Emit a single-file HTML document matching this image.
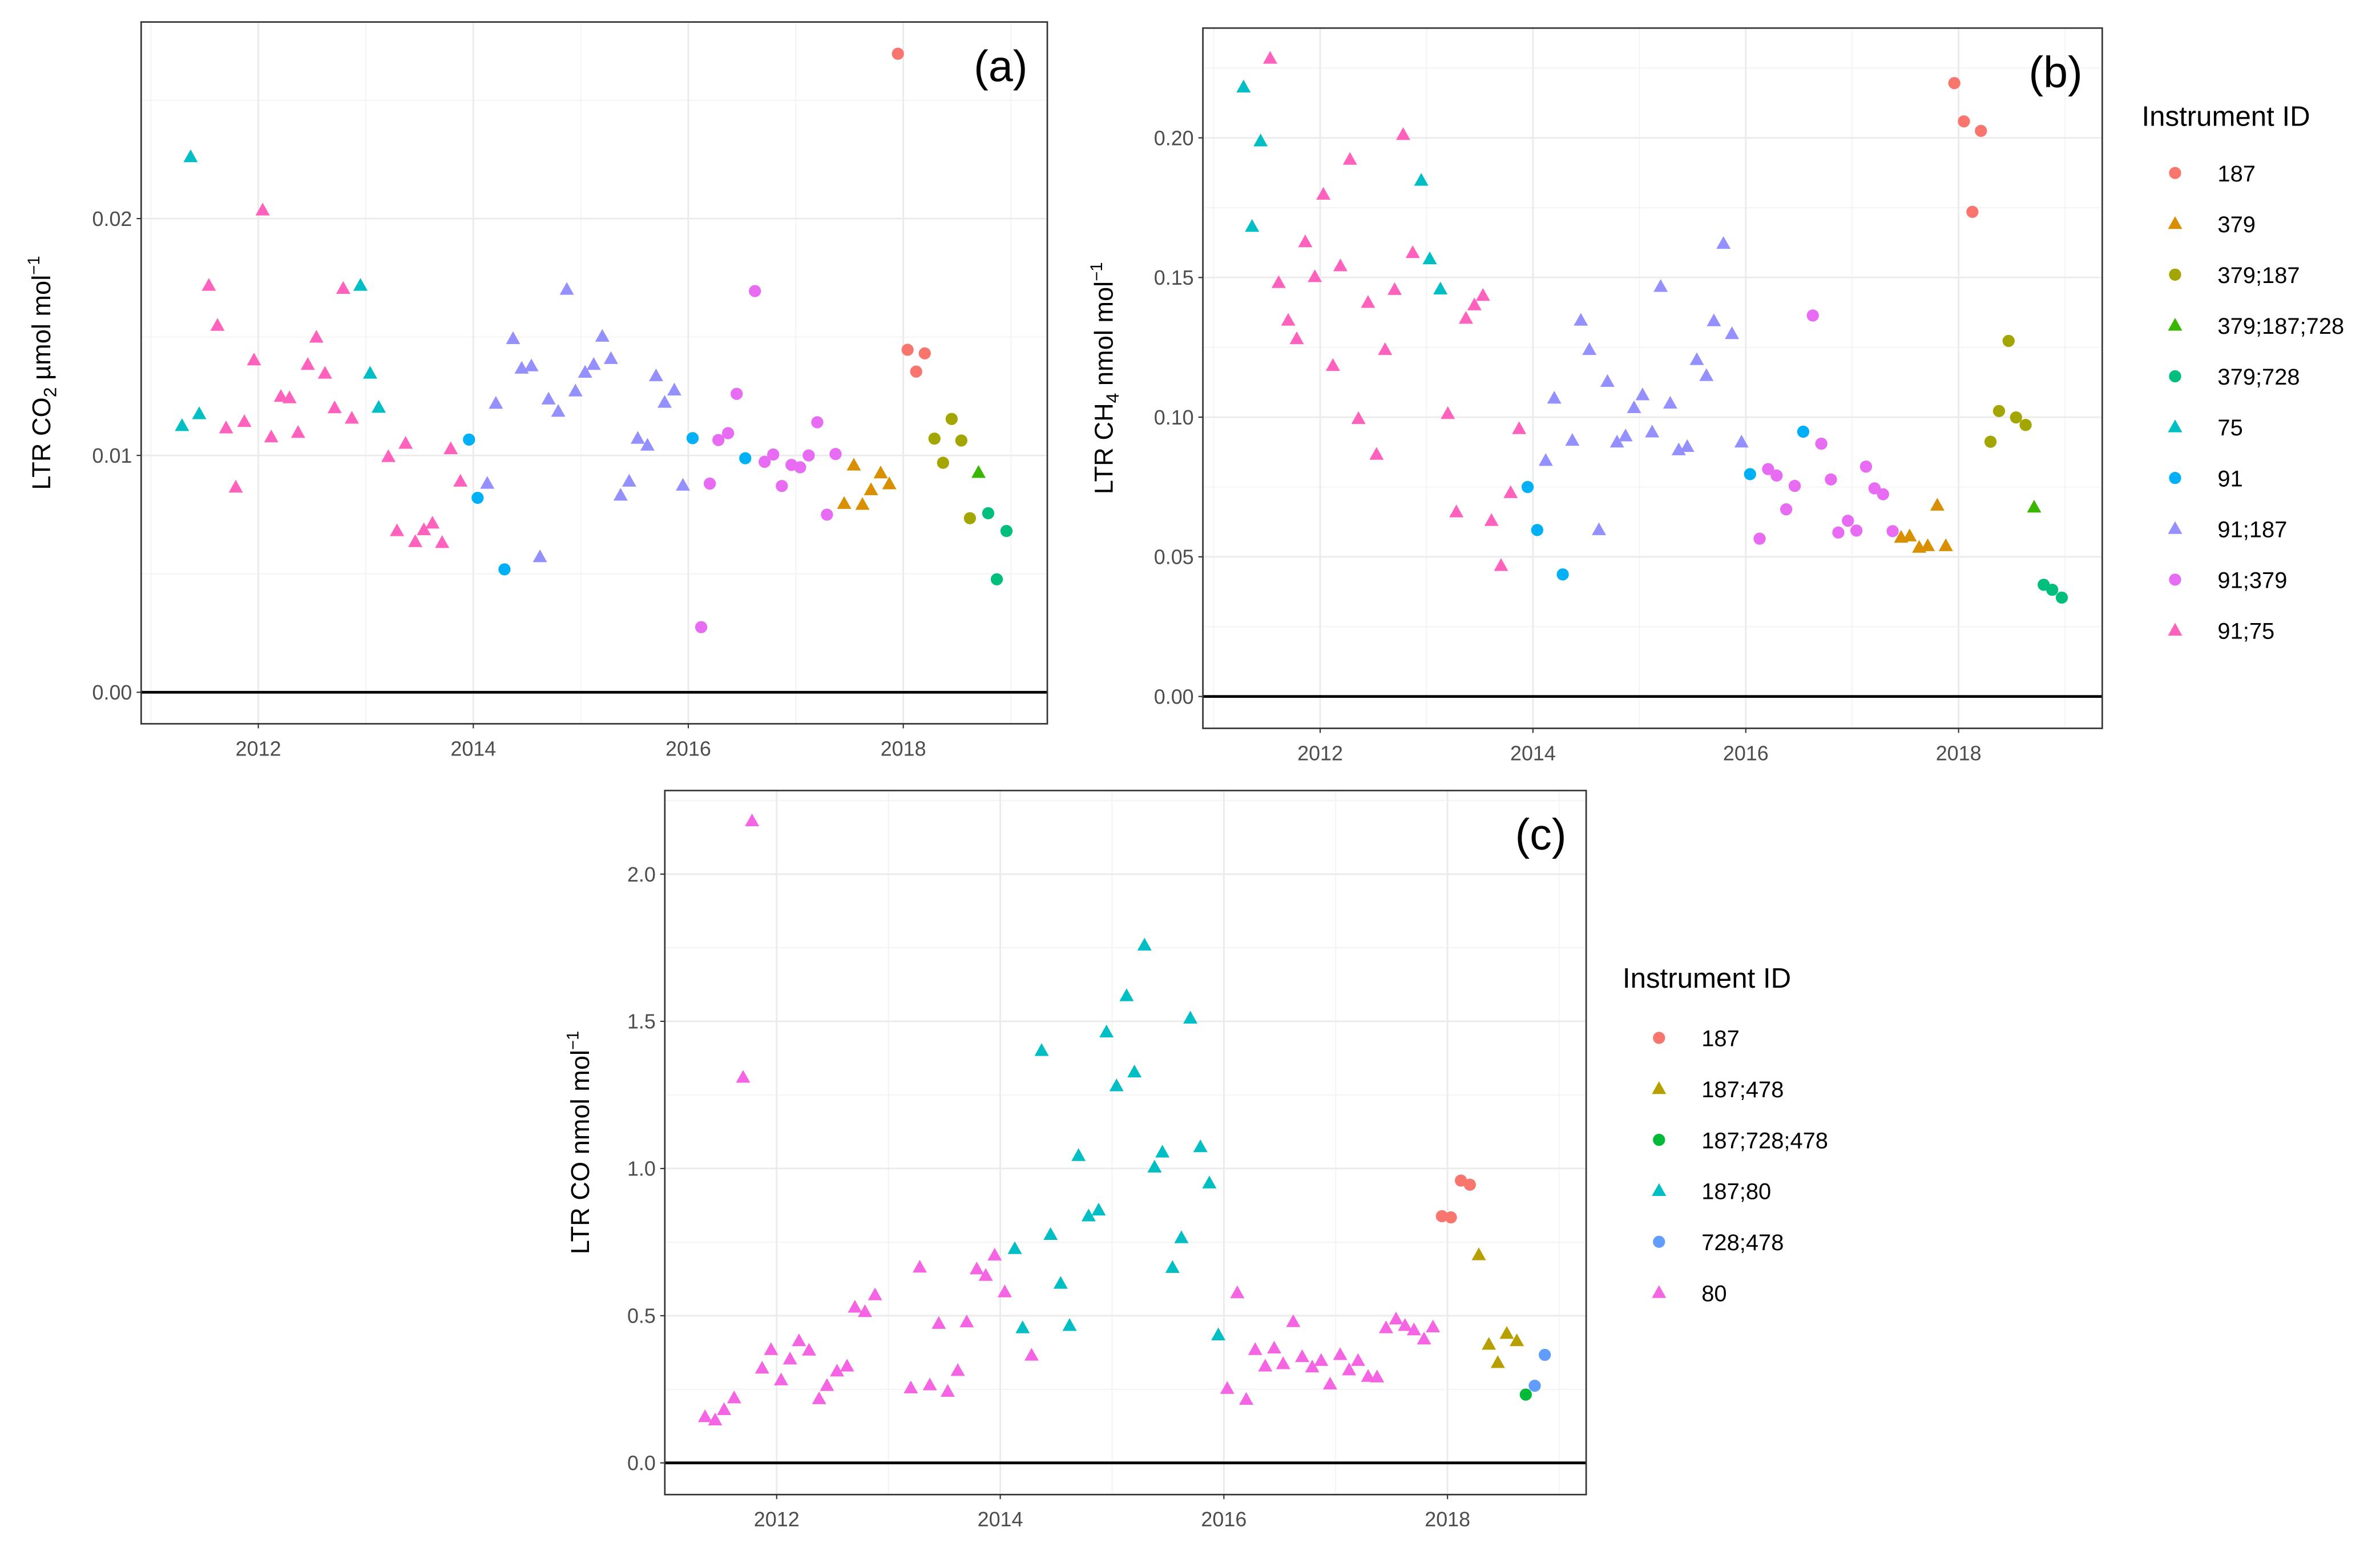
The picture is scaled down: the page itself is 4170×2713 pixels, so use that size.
<!DOCTYPE html>
<html><head><meta charset="utf-8"><title>LTR charts</title>
<style>html,body{margin:0;padding:0;background:#fff}svg{display:block}text{font-family:"Liberation Sans",sans-serif}</style>
</head><body>
<svg id="chart" width="4170" height="2713" viewBox="0 0 1568 1020.2" preserveAspectRatio="none" xmlns="http://www.w3.org/2000/svg"></svg>
<script>
// ---------- Panel (a) CO2 ----------
const a187x=[2017.95,2018.04,2018.12,2018.2];
const a187y=[0.02696,0.01446,0.01354,0.01431];
const a379x=[2017.45,2017.54,2017.62,2017.7,2017.79,2017.87];
const a379y=[0.00796,0.00958,0.00792,0.00854,0.00925,0.00879];
const a379_187x=[2018.29,2018.37,2018.45,2018.54,2018.62];
const a379_187y=[0.01071,0.00969,0.01154,0.01063,0.00735];
const a379_187_728x=[2018.7];
const a379_187_728y=[0.00927];
const a379_728x=[2018.79,2018.87,2018.96];
const a379_728y=[0.00756,0.00477,0.00681];
const a75x=[2011.29,2011.37,2011.45,2012.95,2013.04,2013.12];
const a75y=[0.01125,0.0226,0.01175,0.01717,0.01346,0.01202];
const a91x=[2013.96,2014.04,2014.29,2016.04,2016.53];
const a91y=[0.01067,0.00821,0.00519,0.01073,0.00988];
const a91_187x=[2014.13,2014.21,2014.37,2014.45,2014.54,2014.62,2014.7,2014.79,2014.87,2014.95,2015.04,2015.12,2015.2,2015.28,2015.37,2015.45,2015.53,2015.62,2015.7,2015.78,2015.87,2015.95];
const a91_187y=[0.00881,0.01219,0.01492,0.01367,0.01377,0.00571,0.01237,0.01185,0.017,0.01271,0.0135,0.01383,0.01502,0.01408,0.00831,0.0089,0.01071,0.01042,0.01335,0.01223,0.01275,0.00873];
const a91_379x=[2016.12,2016.2,2016.28,2016.37,2016.45,2016.62,2016.71,2016.79,2016.87,2016.96,2017.04,2017.12,2017.2,2017.29,2017.37];
const a91_379y=[0.00275,0.00881,0.01065,0.01094,0.0126,0.01694,0.00973,0.01004,0.00871,0.0096,0.0095,0.01,0.0114,0.0075,0.01006];
const a91_75x=[2011.54,2011.62,2011.7,2011.79,2011.87,2011.96,2012.04,2012.12,2012.21,2012.29,2012.37,2012.46,2012.54,2012.62,2012.71,2012.79,2012.87,2013.21,2013.29,2013.37,2013.46,2013.54,2013.62,2013.71,2013.79,2013.88];
const a91_75y=[0.01717,0.01548,0.01115,0.00865,0.01142,0.01402,0.02035,0.01077,0.01248,0.01242,0.01096,0.01383,0.01498,0.01346,0.012,0.01704,0.01156,0.00994,0.00681,0.0105,0.00635,0.00685,0.00713,0.00631,0.01027,0.0089];
const aYTicks=[0,0.01,0.02];
const aYTickLabels=["0.00","0.01","0.02"];

// ---------- Panel (b) CH4 ----------
const b187x=[2017.96,2018.05,2018.13,2018.21];
const b187y=[0.2196,0.2059,0.1735,0.2025];
const b379x=[2017.46,2017.54,2017.63,2017.71,2017.8,2017.88];
const b379y=[0.0569,0.0574,0.0533,0.0539,0.0684,0.0539];
const b379_187x=[2018.3,2018.38,2018.47,2018.54,2018.63];
const b379_187y=[0.0912,0.1022,0.1273,0.0999,0.0972];
const b379_187_728x=[2018.71];
const b379_187_728y=[0.0677];
const b379_728x=[2018.8,2018.88,2018.97];
const b379_728y=[0.04,0.0382,0.0354];
const b75x=[2011.28,2011.36,2011.44,2012.95,2013.03,2013.13];
const b75y=[0.2181,0.1682,0.1988,0.1847,0.1566,0.1458];
const b91x=[2013.95,2014.04,2014.28,2016.04,2016.54];
const b91y=[0.075,0.0596,0.0437,0.0796,0.0948];
const b91_187x=[2014.12,2014.2,2014.37,2014.45,2014.53,2014.62,2014.7,2014.79,2014.87,2014.95,2015.03,2015.12,2015.2,2015.29,2015.37,2015.45,2015.54,2015.63,2015.7,2015.79,2015.87,2015.96];
const b91_187y=[0.0844,0.1067,0.0916,0.1346,0.1241,0.0596,0.1127,0.091,0.0932,0.1033,0.1079,0.0946,0.1467,0.1049,0.0882,0.0894,0.1205,0.1148,0.1344,0.1621,0.1298,0.091];
const b91_379x=[2016.13,2016.21,2016.29,2016.38,2016.46,2016.63,2016.71,2016.8,2016.87,2016.96,2017.04,2017.13,2017.21,2017.29,2017.38];
const b91_379y=[0.0565,0.0814,0.0791,0.067,0.0754,0.1364,0.0905,0.0777,0.0587,0.0629,0.0594,0.0823,0.0745,0.0724,0.0592];
const b91_75x=[2011.53,2011.61,2011.7,2011.78,2011.86,2011.95,2012.03,2012.12,2012.19,2012.28,2012.36,2012.45,2012.53,2012.61,2012.7,2012.78,2012.87,2013.2,2013.28,2013.37,2013.45,2013.53,2013.61,2013.7,2013.79,2013.87];
const b91_75y=[0.2284,0.1481,0.1346,0.128,0.1627,0.1502,0.1797,0.1184,0.1541,0.1922,0.0994,0.141,0.0866,0.1241,0.1456,0.2011,0.1588,0.1012,0.066,0.1353,0.1401,0.1435,0.0629,0.0468,0.0729,0.0958];
const bYTicks=[0,0.05,0.1,0.15,0.2];
const bYTickLabels=["0.00","0.05","0.10","0.15","0.20"];

// ---------- Panel (c) CO ----------
const c187x=[2017.95,2018.03,2018.12,2018.2];
const c187y=[0.838,0.834,0.959,0.945];
const c187_478x=[2018.28,2018.37,2018.45,2018.53,2018.62];
const c187_478y=[0.706,0.402,0.34,0.439,0.414];
const c187_728_478x=[2018.7];
const c187_728_478y=[0.232];
const c187_80x=[2014.13,2014.2,2014.37,2014.45,2014.54,2014.62,2014.7,2014.79,2014.88,2014.95,2015.04,2015.13,2015.2,2015.29,2015.38,2015.45,2015.54,2015.62,2015.7,2015.79,2015.87,2015.95];
const c187_80y=[0.727,0.458,1.4,0.775,0.609,0.466,1.043,0.838,0.858,1.463,1.28,1.586,1.327,1.758,1.004,1.055,0.663,0.764,1.51,1.073,0.95,0.434];
const c728_478x=[2018.78,2018.87];
const c728_478y=[0.262,0.367];
const c80x=[2011.36,2011.45,2011.53,2011.62,2011.7,2011.78,2011.87,2011.95,2012.04,2012.12,2012.2,2012.29,2012.38,2012.45,2012.54,2012.63,2012.7,2012.79,2012.88,2013.2,2013.28,2013.37,2013.45,2013.53,2013.62,2013.7,2013.79,2013.87,2013.95,2014.04,2014.28,2016.03,2016.12,2016.2,2016.28,2016.37,2016.45,2016.53,2016.62,2016.7,2016.79,2016.87,2016.95,2017.04,2017.12,2017.2,2017.29,2017.37,2017.45,2017.54,2017.62,2017.7,2017.79,2017.87];
const c80y=[0.156,0.145,0.18,0.22,1.309,2.18,0.321,0.384,0.281,0.352,0.414,0.382,0.217,0.262,0.311,0.328,0.528,0.513,0.57,0.254,0.664,0.264,0.473,0.242,0.313,0.478,0.658,0.636,0.705,0.58,0.365,0.252,0.577,0.215,0.384,0.328,0.389,0.336,0.479,0.36,0.325,0.347,0.267,0.367,0.315,0.347,0.293,0.291,0.458,0.488,0.466,0.451,0.42,0.461];
const cYTicks=[0,0.5,1,1.5,2];
const cYTickLabels=["0.0","0.5","1.0","1.5","2.0"];

const xTicks=[2012,2014,2016,2018];
const xTickLabels=["2012","2014","2016","2018"];

const NS="http://www.w3.org/2000/svg";
const svg=document.getElementById('chart');
function mk(tag,attrs,parent){const e=document.createElementNS(NS,tag);for(const k in attrs)e.setAttribute(k,attrs[k]);(parent||svg).appendChild(e);return e;}

function marker(g,shape,cx,cy,color){
  let m;
  if(shape==='c'){m=mk('circle',{cx:cx,cy:cy,r:4.0,fill:color},g);}
  else{const h=5;m=mk('polygon',{points:`${cx},${cy-h} ${cx-4.7},${cy+3.4} ${cx+4.7},${cy+3.4}`,fill:color},g);}
  return m;
}

function panel(p){
  const g=mk('g',{});
  
  
  const sx=v=>p.L+(v-p.x0)/(p.x1-p.x0)*(p.R-p.L);
  const sy=v=>p.B-(v-p.y0)/(p.y1-p.y0)*(p.B-p.T);
  for(let yr=2011;yr<=2019;yr+=2){const x=sx(yr);if(x>p.L&&x<p.R){const l=mk('line',{x1:x,x2:x,y1:p.T,y2:p.B,stroke:'#f2f2f2','stroke-width':0.6},g);}}
  for(let i=0;i<p.yt.length-1;i++){const v=(p.yt[i]+p.yt[i+1])/2;const y=sy(v);const l=mk('line',{x1:p.L,x2:p.R,y1:y,y2:y,stroke:'#f2f2f2','stroke-width':0.6},g);}
  {const v=p.yt[p.yt.length-1]+(p.yt[1]-p.yt[0])/2;if(v<p.y1){const y=sy(v);const l=mk('line',{x1:p.L,x2:p.R,y1:y,y2:y,stroke:'#f2f2f2','stroke-width':0.6},g);}}
  xTicks.forEach((t,i)=>{const x=sx(t);
    const l=mk('line',{x1:x,x2:x,y1:p.T,y2:p.B,stroke:'#ebebeb','stroke-width':1.1},g);
    const tk=mk('line',{x1:x,x2:x,y1:p.B,y2:p.B+3,stroke:'#333','stroke-width':0.8},g);
    const tx=mk('text',{x:x,y:p.B+21,'text-anchor':'middle','font-size':13.5,fill:'#4d4d4d'},g);tx.textContent=xTickLabels[i];});
  p.yt.forEach((t,i)=>{const y=sy(t);
    const l=mk('line',{x1:p.L,x2:p.R,y1:y,y2:y,stroke:'#ebebeb','stroke-width':1.1},g);
    const tk=mk('line',{x1:p.L-3,x2:p.L,y1:y,y2:y,stroke:'#333','stroke-width':0.8},g);
    const tx=mk('text',{x:p.L-6,y:y+4.8,'text-anchor':'end','font-size':13.5,fill:'#4d4d4d'},g);tx.textContent=p.ytl[i];});
  const z=mk('line',{x1:p.L,x2:p.R,y1:sy(0),y2:sy(0),stroke:'#000','stroke-width':1.8},g);
  
  p.series.forEach(s=>{
    const sg=mk('g',{},g);
    
    
    s.x.forEach((xv,i)=>{const m=marker(sg,s.shape,sx(xv),sy(s.y[i]),s.color);
      
      });
  });
  const b=mk('rect',{x:p.L,y:p.T,width:p.R-p.L,height:p.B-p.T,fill:'none',stroke:'#333','stroke-width':1},g);
  
  const pl=mk('text',{x:p.R-13,y:p.T+39,'text-anchor':'end','font-size':29,fill:'#000'},g);
  pl.textContent=p.label;
  const yt=mk('text',{x:0,y:0,'text-anchor':'middle','font-size':17,fill:'#000',transform:`translate(${p.ytx},${(p.T+p.B)/2}) rotate(-90)`},g);
  
  yt.innerHTML=p.ytitle;
  if(p.legend){
    const lg=mk('g',{},svg);
    
    const t=mk('text',{x:p.legend.x,y:p.legend.y,'font-size':18.5,fill:'#000'},lg);t.textContent='Instrument ID';
    
    p.series.forEach((s,i)=>{const y=p.legend.y0+i*p.legend.dy;
      const eg=mk('g',{},lg);
      
      
      marker(eg,s.shape,p.legend.kx,y,s.color);
      const tx=mk('text',{x:p.legend.kx+28,y:y+5.5,'font-size':15,fill:'#000'},eg);tx.textContent=s.id;});
  }
}

const C10=['#F8766D','#D89000','#A3A500','#39B600','#00BF7D','#00BFC4','#00B0F6','#9590FF','#E76BF3','#FF62BC'];
const abSeries=(pre)=>[
 {id:'187',shape:'c',color:C10[0],x:pre[0][0],y:pre[0][1]},
 {id:'379',shape:'t',color:C10[1],x:pre[1][0],y:pre[1][1]},
 {id:'379;187',shape:'c',color:C10[2],x:pre[2][0],y:pre[2][1]},
 {id:'379;187;728',shape:'t',color:C10[3],x:pre[3][0],y:pre[3][1]},
 {id:'379;728',shape:'c',color:C10[4],x:pre[4][0],y:pre[4][1]},
 {id:'75',shape:'t',color:C10[5],x:pre[5][0],y:pre[5][1]},
 {id:'91',shape:'c',color:C10[6],x:pre[6][0],y:pre[6][1]},
 {id:'91;187',shape:'t',color:C10[7],x:pre[7][0],y:pre[7][1]},
 {id:'91;379',shape:'c',color:C10[8],x:pre[8][0],y:pre[8][1]},
 {id:'91;75',shape:'t',color:C10[9],x:pre[9][0],y:pre[9][1]}];

panel({name:'panel-a-co2',label:'(a)',L:93,R:690,T:14.5,B:477,x0:2010.91,x1:2019.34,y0:-0.00133,y1:0.0283,
  yt:aYTicks,ytl:aYTickLabels,ytx:33,
  ytitle:'LTR CO<tspan font-size="12" dy="4">2</tspan><tspan dy="-4"> µmol mol</tspan><tspan font-size="11" dy="-7">−1</tspan>',
  series:abSeries([[a187x,a187y],[a379x,a379y],[a379_187x,a379_187y],[a379_187_728x,a379_187_728y],[a379_728x,a379_728y],[a75x,a75y],[a91x,a91y],[a91_187x,a91_187y],[a91_379x,a91_379y],[a91_75x,a91_75y]])});

panel({name:'panel-b-ch4',label:'(b)',L:792.5,R:1385,T:18.5,B:480,x0:2010.898,x1:2019.35,y0:-0.0114,y1:0.2393,
  yt:bYTicks,ytl:bYTickLabels,ytx:733,
  ytitle:'LTR CH<tspan font-size="12" dy="4">4</tspan><tspan dy="-4"> nmol mol</tspan><tspan font-size="11" dy="-7">−1</tspan>',
  legend:{x:1411,y:83,kx:1433,y0:114,dy:33.5},
  series:abSeries([[b187x,b187y],[b379x,b379y],[b379_187x,b379_187y],[b379_187_728x,b379_187_728y],[b379_728x,b379_728y],[b75x,b75y],[b91x,b91y],[b91_187x,b91_187y],[b91_379x,b91_379y],[b91_75x,b91_75y]])});

panel({name:'panel-c-co',label:'(c)',L:438,R:1045,T:521,B:985,x0:2011.0,x1:2019.24,y0:-0.1077,y1:2.284,
  yt:cYTicks,ytl:cYTickLabels,ytx:388,
  ytitle:'LTR CO nmol mol<tspan font-size="11" dy="-7">−1</tspan>',
  legend:{x:1069,y:651,kx:1093,y0:684,dy:33.6},
  series:[
   {id:'187',shape:'c',color:'#F8766D',x:c187x,y:c187y},
   {id:'187;478',shape:'t',color:'#B79F00',x:c187_478x,y:c187_478y},
   {id:'187;728;478',shape:'c',color:'#00BA38',x:c187_728_478x,y:c187_728_478y},
   {id:'187;80',shape:'t',color:'#00BFC4',x:c187_80x,y:c187_80y},
   {id:'728;478',shape:'c',color:'#619CFF',x:c728_478x,y:c728_478y},
   {id:'80',shape:'t',color:'#F564E3',x:c80x,y:c80y}]});
</script>
</body></html>
